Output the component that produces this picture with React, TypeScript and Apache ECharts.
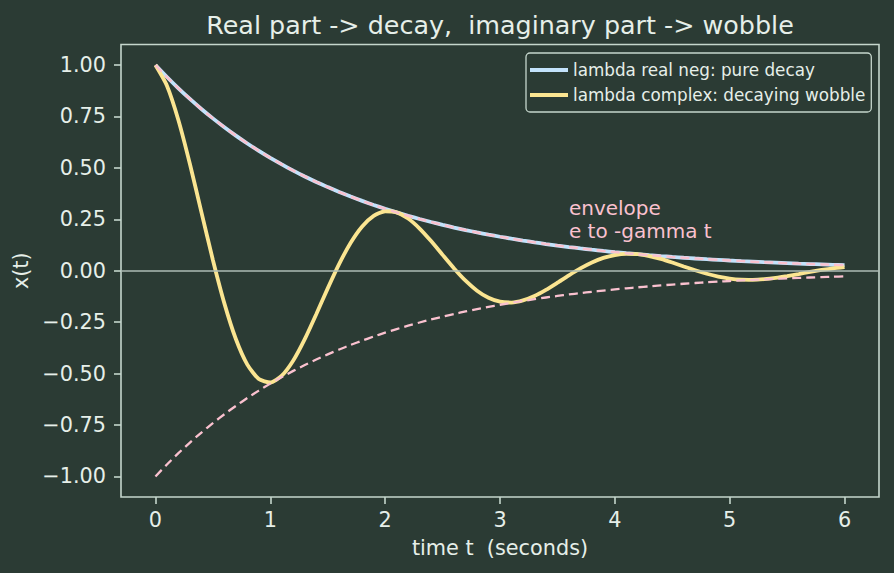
import React, { useEffect, useRef } from "react";
import * as echarts from "echarts";

const timeT = [
  0.0, 0.1, 0.2, 0.3, 0.4, 0.5, 0.6, 0.7, 0.8, 0.9,
  1.0, 1.1, 1.2, 1.3, 1.4, 1.5, 1.6, 1.7, 1.8, 1.9,
  2.0, 2.1, 2.2, 2.3, 2.4, 2.5, 2.6, 2.7, 2.8, 2.9,
  3.0, 3.1, 3.2, 3.3, 3.4, 3.5, 3.6, 3.7, 3.8, 3.9,
  4.0, 4.1, 4.2, 4.3, 4.4, 4.5, 4.6, 4.7, 4.8, 4.9,
  5.0, 5.1, 5.2, 5.3, 5.4, 5.5, 5.6, 5.7, 5.8, 5.9,
  6.0,
];

const pureDecay = [
  1.0, 0.9418, 0.8869, 0.8353, 0.7866, 0.7408, 0.6977, 0.657, 0.6188, 0.5827,
  0.5488, 0.5169, 0.4868, 0.4584, 0.4317, 0.4066, 0.3829, 0.3606, 0.3396, 0.3198,
  0.3012, 0.2837, 0.2671, 0.2516, 0.2369, 0.2231, 0.2101, 0.1979, 0.1864, 0.1755,
  0.1653, 0.1557, 0.1466, 0.1381, 0.13, 0.1225, 0.1153, 0.1086, 0.1023, 0.0963,
  0.0907, 0.0854, 0.0805, 0.0758, 0.0714, 0.0672, 0.0633, 0.0596, 0.0561, 0.0529,
  0.0498, 0.0469, 0.0442, 0.0416, 0.0392, 0.0369, 0.0347, 0.0327, 0.0308, 0.029,
  0.0273,
];

const wobble = [
  1.0, 0.8997, 0.732, 0.5192, 0.2851, 0.0524, -0.1585, -0.3317, -0.4563, -0.5268,
  -0.5433, -0.5104, -0.4366, -0.3328, -0.2117, -0.0857, 0.0335, 0.1363, 0.2155, 0.2669,
  0.2892, 0.2837, 0.2538, 0.2052, 0.1441, 0.0773, 0.0113, -0.0482, -0.0968, -0.1314,
  -0.1506, -0.1545, -0.1444, -0.1228, -0.0929, -0.0582, -0.0224, 0.0113, 0.0403, 0.0624,
  0.0765, 0.0824, 0.0805, 0.0716, 0.0575, 0.04, 0.0209, 0.0022, -0.0146, -0.0282,
  -0.0378, -0.0431, -0.0439, -0.0408, -0.0346, -0.0259, -0.016, -0.0058, 0.0037, 0.0119,
  0.018,
];

const envelopeUpper = pureDecay;

const envelopeLower = [
  -1.0, -0.9418, -0.8869, -0.8353, -0.7866, -0.7408, -0.6977, -0.657, -0.6188, -0.5827,
  -0.5488, -0.5169, -0.4868, -0.4584, -0.4317, -0.4066, -0.3829, -0.3606, -0.3396, -0.3198,
  -0.3012, -0.2837, -0.2671, -0.2516, -0.2369, -0.2231, -0.2101, -0.1979, -0.1864, -0.1755,
  -0.1653, -0.1557, -0.1466, -0.1381, -0.13, -0.1225, -0.1153, -0.1086, -0.1023, -0.0963,
  -0.0907, -0.0854, -0.0805, -0.0758, -0.0714, -0.0672, -0.0633, -0.0596, -0.0561, -0.0529,
  -0.0498, -0.0469, -0.0442, -0.0416, -0.0392, -0.0369, -0.0347, -0.0327, -0.0308, -0.029,
  -0.0273,
];

const xTicks = [0, 1, 2, 3, 4, 5, 6];
const yTicks = [-1, -0.75, -0.5, -0.25, 0, 0.25, 0.5, 0.75, 1];

const seriesNames = ["lambda real neg: pure decay", "lambda complex: decaying wobble"];
const titleText = "Real part -> decay,  imaginary part -> wobble";
const annotationLines = ["envelope", "e to -gamma t"];
const annotationAt = [3.6, 0.16];

const BG = "#2b3b34";
const FG = "#e6efe9";
const SPINE = "#c5d6cc";
const BLUE = "#c3e2fb";
const YELLOW = "#fbe591";
const PINK = "#fac1cf";
const FONT = "DejaVu Sans";

const pairs = (xs: number[], ys: number[]) => xs.map((x, i) => [x, ys[i]]);
const fmt = (v: number) => (v < 0 ? "\u2212" : "") + Math.abs(v).toFixed(2);

export default function App() {
  const ref = useRef<HTMLDivElement>(null);

  useEffect(() => {
    if (!ref.current) return;
    const chart = echarts.init(ref.current, undefined, { renderer: "svg" });

    const option: any = {
      animation: false,
      backgroundColor: BG,
      textStyle: { fontFamily: FONT },
      grid: {
        left: 121,
        top: 44.5,
        right: 15,
        bottom: 76,
        show: true,
        borderColor: SPINE,
        borderWidth: 1.6,
        backgroundColor: "transparent",
      },
      legend: {
        data: seriesNames,
        orient: "vertical",
        left: 526,
        top: 53,
        padding: [7, 6, 7, 4],
        itemGap: 5,
        itemWidth: 38,
        itemHeight: 4,
        icon: "rect",
        backgroundColor: BG,
        borderColor: SPINE,
        borderWidth: 1.3,
        borderRadius: 4,
        textStyle: { color: FG, fontSize: 16.8, fontFamily: FONT, lineHeight: 20 },
      },
      xAxis: {
        type: "value",
        min: -0.3,
        max: 6.3,
        splitLine: { show: false },
        axisLine: { show: false, onZero: false },
        axisTick: {
          show: true,
          length: 7,
          lineStyle: { color: SPINE, width: 1.6 },
          customValues: xTicks,
        },
        axisLabel: {
          color: FG,
          fontSize: 20.8,
          fontFamily: FONT,
          margin: 12,
          customValues: xTicks,
          formatter: (v: number) => String(v),
        },
        name: "time t  (seconds)",
        nameLocation: "middle",
        nameGap: 40,
        nameTextStyle: { color: FG, fontSize: 20.8, fontFamily: FONT },
      },
      yAxis: {
        type: "value",
        min: -1.1,
        max: 1.1,
        splitLine: { show: false },
        axisLine: { show: false, onZero: false },
        axisTick: {
          show: true,
          length: 7,
          lineStyle: { color: SPINE, width: 1.6 },
          customValues: yTicks,
        },
        axisLabel: {
          color: FG,
          fontSize: 20.8,
          fontFamily: FONT,
          margin: 15,
          customValues: yTicks,
          formatter: (v: number) => fmt(v),
        },
        name: "x(t)",
        nameLocation: "middle",
        nameGap: 82,
        nameTextStyle: { color: FG, fontSize: 20.8, fontFamily: FONT },
      },
      series: [
        {
          name: "zero line",
          type: "line",
          data: [],
          z: 1,
          silent: true,
          markLine: {
            silent: true,
            symbol: "none",
            label: { show: false },
            lineStyle: { color: "#aebdb4", width: 1.5, type: "solid" },
            data: [{ yAxis: 0 }],
          },
        },
        {
          name: seriesNames[0],
          type: "line",
          data: pairs(timeT, pureDecay),
          showSymbol: false,
          smooth: 0.2,
          z: 2,
          itemStyle: { color: BLUE },
          lineStyle: { color: BLUE, width: 3.8 },
        },
        {
          name: seriesNames[1],
          type: "line",
          data: pairs(timeT, wobble),
          showSymbol: false,
          smooth: 0.2,
          z: 3,
          itemStyle: { color: YELLOW },
          lineStyle: { color: YELLOW, width: 3.8 },
        },
        {
          name: "envelope upper",
          type: "line",
          data: pairs(timeT, envelopeUpper),
          showSymbol: false,
          smooth: 0.2,
          z: 4,
          itemStyle: { color: PINK },
          lineStyle: { color: PINK, width: 2.5, type: [9, 5] },
        },
        {
          name: "envelope lower",
          type: "line",
          data: pairs(timeT, envelopeLower),
          showSymbol: false,
          smooth: 0.2,
          z: 4,
          itemStyle: { color: PINK },
          lineStyle: { color: PINK, width: 2.3, type: [9, 5] },
        },
      ],
    };

    chart.setOption(option);

    const p = chart.convertToPixel({ gridIndex: 0 }, annotationAt) as number[];
    chart.setOption({
      graphic: [
        {
          type: "text",
          x: 500,
          y: 24.5,
          style: {
            text: titleText,
            fill: FG,
            fontSize: 25.4,
            fontFamily: FONT,
            textAlign: "center",
            verticalAlign: "middle",
          },
        },
        {
          type: "text",
          x: p[0],
          y: p[1] - 30,
          style: {
            text: annotationLines[0],
            fill: PINK,
            fontSize: 20,
            fontFamily: FONT,
            textAlign: "left",
            verticalAlign: "middle",
          },
        },
        {
          type: "text",
          x: p[0],
          y: p[1] - 6.8,
          style: {
            text: annotationLines[1],
            fill: PINK,
            fontSize: 20,
            fontFamily: FONT,
            textAlign: "left",
            verticalAlign: "middle",
          },
        },
      ],
    });

    return () => chart.dispose();
  }, []);

  return (
    <div
      ref={ref}
      style={{ position: "fixed", left: 0, top: 0, width: 894, height: 573 }}
    />
  );
}
